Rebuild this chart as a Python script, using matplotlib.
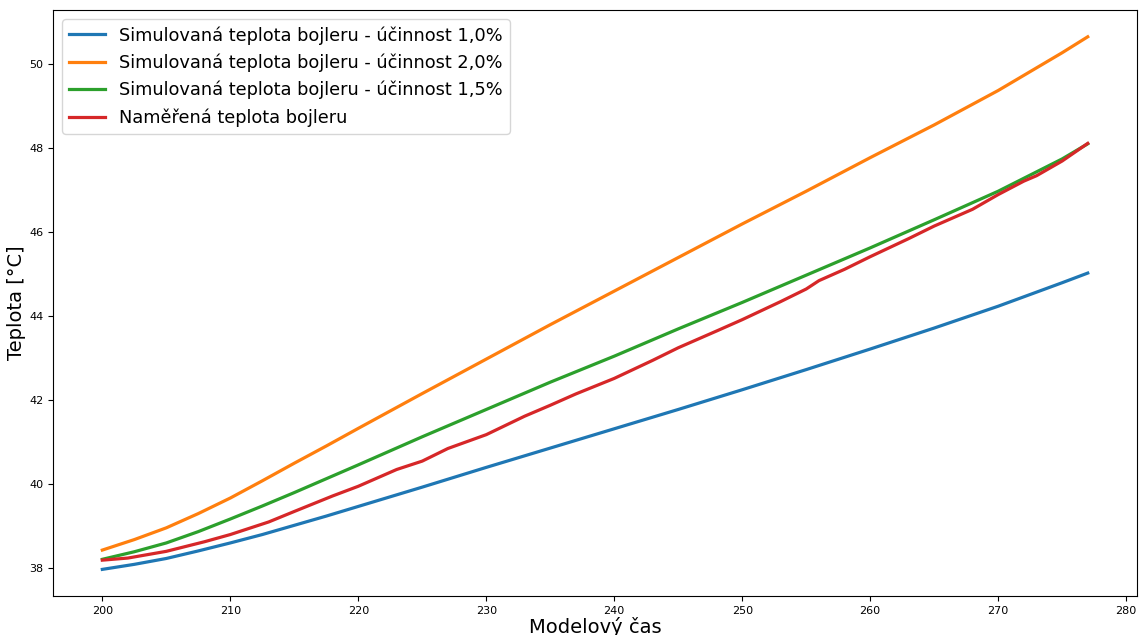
import matplotlib.pyplot as plt
import numpy as np

# simulace - cas a teploty
t_sim = [200, 202.5, 205, 207.5, 210, 212.5, 215, 217.5, 220, 225, 230, 235, 240, 245, 250, 255, 260, 265, 270, 275, 277]
T_10 = [37.97, 38.09, 38.23, 38.41, 38.60, 38.80, 39.02, 39.24, 39.47, 39.93, 40.40, 40.86, 41.32, 41.78, 42.25, 42.73, 43.22, 43.72, 44.24, 44.80, 45.03]
T_20 = [38.43, 38.68, 38.96, 39.30, 39.67, 40.08, 40.50, 40.91, 41.33, 42.16, 42.98, 43.80, 44.60, 45.40, 46.20, 46.98, 47.78, 48.56, 49.38, 50.28, 50.66]
T_15 = [38.21, 38.39, 38.60, 38.87, 39.17, 39.48, 39.80, 40.13, 40.46, 41.13, 41.78, 42.43, 43.05, 43.70, 44.33, 44.98, 45.63, 46.30, 46.98, 47.75, 48.11]

# mereni
t_mer = [200, 202, 205, 208, 210, 213, 215, 218, 220, 223, 225, 227, 230, 233, 235, 237, 240,
         243, 245, 248, 250, 253, 255, 256, 258, 260, 263, 265, 268, 270, 272, 273, 275, 277]
T_mer = [38.19, 38.24, 38.40, 38.63, 38.80, 39.10, 39.35, 39.72, 39.95, 40.35, 40.55, 40.85, 41.18,
         41.62, 41.88, 42.15, 42.52, 42.95, 43.25, 43.65, 43.92, 44.35, 44.65, 44.85, 45.12, 45.42,
         45.85, 46.15, 46.55, 46.90, 47.22, 47.35, 47.70, 48.12]

fig = plt.figure(figsize=(11.41, 6.35), dpi=100)
ax = fig.add_axes([0.0465, 0.0614, 0.95, 0.9226])

ax.plot(t_sim, T_10, lw=2.3, label="Simulovaná teplota bojleru - účinnost 1,0%")
ax.plot(t_sim, T_20, lw=2.3, label="Simulovaná teplota bojleru - účinnost 2,0%")
ax.plot(t_sim, T_15, lw=2.3, label="Simulovaná teplota bojleru - účinnost 1,5%")
ax.plot(t_mer, T_mer, lw=2.3, label="Naměřená teplota bojleru")

ax.set_xlabel("Modelový čas", fontsize=14, labelpad=1)
ax.set_ylabel("Teplota [°C]", fontsize=14, labelpad=2)
ax.tick_params(labelsize=8)
ax.legend(loc="upper left", fontsize=12.8)

fig.savefig("out.png")
